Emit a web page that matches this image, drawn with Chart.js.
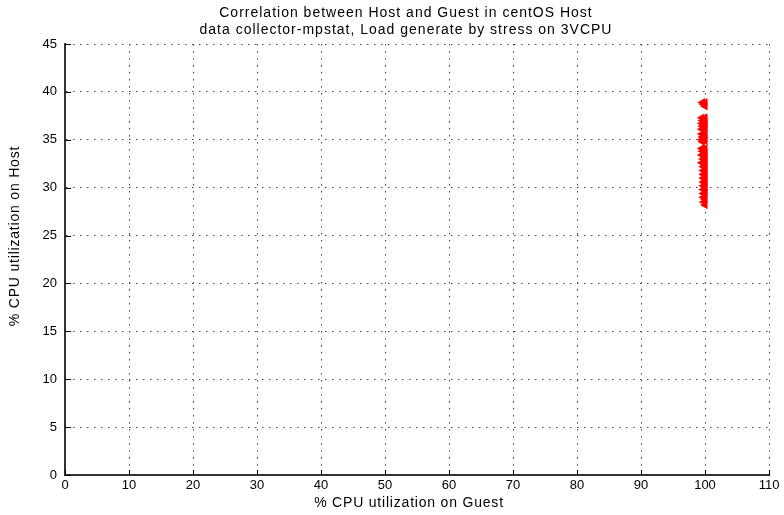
<!DOCTYPE html>
<html lang="en">
<head>
    <meta charset="UTF-8">
    <title>Correlation between Host and Guest</title>
    <script src="https://cdn.jsdelivr.net/npm/chart.js"></script>
    <style>
        html, body { margin: 0; padding: 0; background: #fff; }
        #wrap { width: 784px; height: 515px; position: relative; }
    </style>
</head>
<body>
    <div id="wrap"><canvas id="scatterChart"></canvas></div>

    <script>
        // chart text
        const titleLines = [
            'Correlation between Host and Guest in centOS Host',
            'data collector-mpstat, Load generate by stress on 3VCPU'
        ];
        const xAxisTitle = '% CPU utilization on Guest';
        const yAxisTitle = '% CPU utilization on Host';

        // axis ticks
        const xTicks = [0, 10, 20, 30, 40, 50, 60, 70, 80, 90, 100, 110];
        const yTicks = [0, 5, 10, 15, 20, 25, 30, 35, 40, 45];

        // samples (guest %, host %)
        const guestCpu = [
            99.6, 100.0, 99.8, 100.0,
            99.5, 100.0, 99.6, 100.0, 99.5, 100.0, 99.6, 100.0, 99.5,
            99.5, 100.0, 99.6, 100.0, 99.5, 100.0, 99.6,
            99.5, 100.0, 99.6, 100.0, 99.5, 100.0, 99.7, 100.0, 99.5, 100.0,
            99.75, 100.0, 99.75, 100.0, 99.75, 100.0, 99.75, 100.0, 99.75, 100.0,
            99.75, 100.0, 99.75, 100.0, 99.75, 100.0, 99.75, 100.0, 99.8, 100.0
        ];
        const hostCpu = [
            38.9, 38.9, 38.7, 38.5,
            37.3, 37.3, 37.0, 36.9, 36.7, 36.6, 36.4, 36.2, 36.1,
            35.6, 35.6, 35.3, 35.2, 35.0, 34.9, 34.8,
            34.1, 34.1, 33.8, 33.7, 33.4, 33.3, 33.0, 32.9, 32.6, 32.5,
            32.2, 32.1, 31.8, 31.7, 31.4, 31.3, 31.0, 30.9, 30.6, 30.5,
            30.2, 30.1, 29.8, 29.7, 29.4, 29.3, 29.0, 28.8, 28.5, 28.2
        ];

        const points = guestCpu.map((g, i) => ({ x: g, y: hostCpu[i] }));

        Chart.defaults.font.family = "'Liberation Sans', Arial, sans-serif";
        Chart.defaults.font.size = 13;
        Chart.defaults.color = '#000';

        // title, axis titles and the little inward tick marks
        const decorations = {
            id: 'decorations',
            afterDraw(chart) {
                const ctx = chart.ctx;
                const area = chart.chartArea;
                const xs = chart.scales.x;
                const ys = chart.scales.y;
                ctx.save();
                ctx.fillStyle = '#000';
                ctx.textAlign = 'center';
                ctx.textBaseline = 'middle';
                ctx.letterSpacing = '1px';
                ctx.font = "14px 'Liberation Sans', Arial, sans-serif";
                ctx.fillText(titleLines[0], 406, 13);
                ctx.fillText(titleLines[1], 406, 30);

                ctx.letterSpacing = '0.8px';
                ctx.font = "14px 'Liberation Sans', Arial, sans-serif";
                ctx.fillText(xAxisTitle, 409, 503);
                ctx.translate(15, 236);
                ctx.rotate(-Math.PI / 2);
                ctx.fillText(yAxisTitle, 0, 0);
                ctx.restore();

                ctx.save();
                ctx.strokeStyle = '#000';
                ctx.lineWidth = 1;
                ctx.beginPath();
                xTicks.forEach(v => {
                    const px = Math.round(xs.getPixelForValue(v)) + 0.5;
                    ctx.moveTo(px, area.bottom);
                    ctx.lineTo(px, area.bottom - 5);
                });
                yTicks.forEach(v => {
                    const py = Math.round(ys.getPixelForValue(v)) + 0.5;
                    ctx.moveTo(area.left, py);
                    ctx.lineTo(area.left + 6, py);
                });
                ctx.stroke();
                ctx.restore();
            }
        };

        new Chart(document.getElementById('scatterChart'), {
            type: 'scatter',
            data: {
                datasets: [{
                    label: 'Host vs Guest',
                    data: points,
                    backgroundColor: '#ff0000',
                    borderColor: '#ff0000',
                    borderWidth: 0,
                    pointStyle: 'triangle',
                    rotation: -90,
                    pointRadius: 5
                }]
            },
            options: {
                responsive: true,
                maintainAspectRatio: false,
                animation: false,
                layout: { padding: { top: 44, right: 15, left: 0, bottom: 0 } },
                plugins: {
                    legend: { display: false },
                    tooltip: { enabled: false }
                },
                scales: {
                    x: {
                        type: 'linear',
                        min: 0,
                        max: 110,
                        afterFit: s => { s.height = 40; },
                        afterBuildTicks: s => { s.ticks = xTicks.map(v => ({ value: v })); },
                        ticks: { padding: 3, maxRotation: 0, font: { size: 13 } },
                        grid: { color: '#444', lineWidth: 1, drawTicks: false },
                        border: { display: true, color: '#333', width: 2, dash: [1.5, 5.5] }
                    },
                    y: {
                        min: 0,
                        max: 45,
                        afterFit: s => { s.width = 65; },
                        afterBuildTicks: s => { s.ticks = yTicks.map(v => ({ value: v })); },
                        ticks: { padding: 8, font: { size: 13 } },
                        grid: { color: '#444', lineWidth: 1, drawTicks: false },
                        border: { display: true, color: '#333', width: 2, dash: [1.5, 5.5] }
                    }
                }
            },
            plugins: [decorations]
        });
    </script>
</body>
</html>
